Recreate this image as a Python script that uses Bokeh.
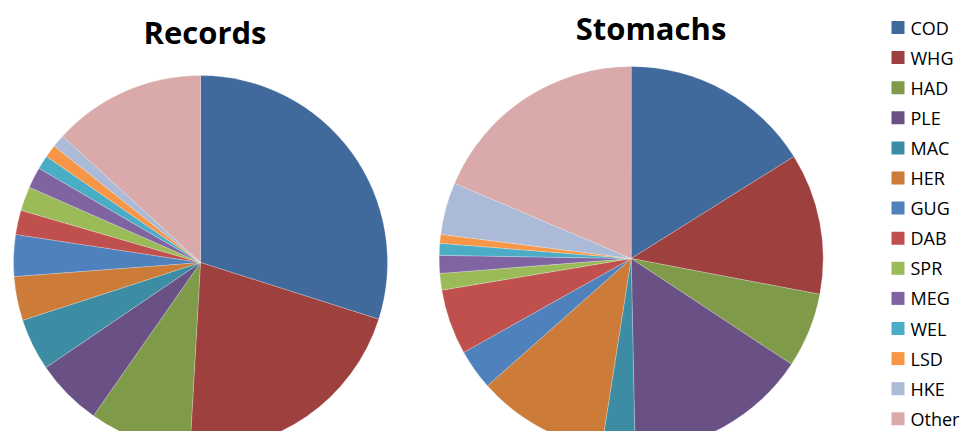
import numpy as np
from bokeh.plotting import figure
from bokeh.models import ColumnDataSource, Range1d
from bokeh.core.properties import value
from bokeh.embed import file_html
from bokeh.resources import INLINE

species = ["COD", "WHG", "HAD", "PLE", "MAC", "HER", "GUG", "DAB", "SPR", "MEG", "WEL", "LSD", "HKE", "Other"]
records = [29.9, 21.0, 8.8, 5.8, 4.5, 3.8, 3.6, 2.1, 2.1, 1.8, 1.2, 1.1, 1.1, 13.2]
stomachs = [16.1, 11.9, 6.3, 15.4, 2.8, 11.0, 3.4, 5.5, 1.4, 1.5, 1.0, 0.75, 4.4, 18.6]
colors = ["#40699C", "#9E413E", "#7F9A48", "#695185", "#3C8DA3", "#CC7B38", "#4F81BD",
          "#C0504D", "#9BBB59", "#8064A2", "#4BACC6", "#F79646", "#AABAD7", "#D9AAA9"]

W, H = 962, 431
p = figure(width=W, height=H, output_backend="svg", toolbar_location=None,
           x_range=Range1d(0, W), y_range=Range1d(0, H),
           x_axis_type=None, y_axis_type=None, min_border=0)
p.outline_line_color = None
p.grid.visible = False
p.background_fill_color = "white"


def pie(vals, cx, cy, r):
    v = np.array(vals, dtype=float)
    frac = v / v.sum()
    cum = np.concatenate([[0.0], np.cumsum(frac)])
    start = np.pi / 2 - 2 * np.pi * cum[:-1]
    end = np.pi / 2 - 2 * np.pi * cum[1:]
    src = ColumnDataSource(dict(start=start, end=end, color=colors, name=species))
    p.wedge(x=cx, y=cy, radius=r, start_angle="start", end_angle="end",
            direction="clock", fill_color="color", line_color="white",
            line_width=0.5, line_alpha=0.45, source=src)


pie(records, 200, 169, 187)
pie(stomachs, 630.7, 173, 192)

p.text(x=[204.5], y=[399.4], text=["Records"], text_font=value("Open Sans"),
       text_font_style="bold", text_font_size="31px", text_align="center",
       text_baseline="middle", text_color="black")
p.text(x=[650.5], y=[403.5], text=["Stomachs"], text_font=value("Open Sans"),
       text_font_style="bold", text_font_size="31px", text_align="center",
       text_baseline="middle", text_color="black")

idx = np.arange(len(species))
ly = H - (27.0 + 30.1 * idx)
lsrc = ColumnDataSource(dict(x=[897.5] * len(species), tx=[910] * len(species), y=ly,
                             color=colors, name=species))
p.scatter(x="x", y="y", marker="square", size=13, fill_color="color",
          line_color=None, source=lsrc)
p.text(x="tx", y="y", text="name", text_font=value("Open Sans"), text_font_size="18px",
       text_baseline="middle", text_align="left", text_color="black", source=lsrc)

open("out.html", "w").write(file_html(p, INLINE))
